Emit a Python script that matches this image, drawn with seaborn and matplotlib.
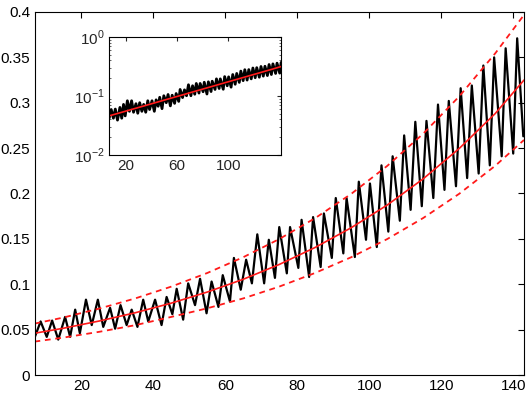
import matplotlib
matplotlib.use('Agg')
import matplotlib.pyplot as plt
import seaborn as sns

# black oscillating signal: alternating troughs / peaks
osc_x = [7.1, 8.7, 10.4, 11.9, 13.6, 15.5, 16.9, 18.3, 19.6, 21.3,
         22.9, 24.6, 26.1, 28.0, 29.4, 30.9, 32.6, 34.0, 35.6, 37.2,
         38.6, 40.5, 42.3, 43.7, 45.3, 46.5, 48.3, 49.7, 51.6, 53.0,
         54.8, 56.2, 58.1, 59.3, 61.3, 62.4, 64.3, 65.8, 67.4, 68.9,
         70.8, 72.1, 73.8, 75.0, 77.1, 78.0, 80.3, 81.2, 83.3, 84.4,
         86.5, 87.4, 89.6, 90.7, 92.8, 93.7, 96.0, 97.1, 99.1, 100.2,
         102.1, 103.4, 105.3, 106.5, 108.5, 109.7, 111.5, 112.8, 114.6, 115.9,
         117.8, 119.1, 120.9, 122.1, 124.1, 125.4, 127.2, 128.5, 130.4, 131.7,
         133.5, 134.7, 136.8, 137.9, 140.0, 141.1, 142.8]
osc_y = [0.042, 0.059, 0.042, 0.060, 0.039, 0.064, 0.042, 0.072, 0.046, 0.083,
         0.055, 0.083, 0.053, 0.074, 0.051, 0.077, 0.055, 0.072, 0.053, 0.083,
         0.059, 0.083, 0.055, 0.086, 0.067, 0.095, 0.061, 0.101, 0.077, 0.106,
         0.068, 0.103, 0.075, 0.110, 0.081, 0.129, 0.094, 0.127, 0.101, 0.155,
         0.101, 0.149, 0.107, 0.163, 0.112, 0.163, 0.118, 0.171, 0.108, 0.174,
         0.119, 0.178, 0.129, 0.195, 0.134, 0.195, 0.130, 0.213, 0.149, 0.211,
         0.141, 0.231, 0.158, 0.241, 0.170, 0.264, 0.182, 0.279, 0.186, 0.280,
         0.195, 0.298, 0.204, 0.302, 0.208, 0.316, 0.217, 0.319, 0.222, 0.341,
         0.231, 0.350, 0.241, 0.360, 0.244, 0.371, 0.263]

# red fitted curve and its envelope
fit_x = [7, 15, 25, 35, 45, 55, 65, 75, 85, 95, 105, 115, 125, 135, 143]
fit_mid = [0.0460, 0.0515, 0.0595, 0.0686, 0.0792, 0.0914, 0.1055, 0.1218,
           0.1406, 0.1623, 0.1873, 0.2162, 0.2496, 0.2881, 0.3250]
fit_up = [0.0566, 0.0633, 0.0732, 0.0844, 0.0974, 0.1124, 0.1298, 0.1498,
          0.1729, 0.1996, 0.2304, 0.2659, 0.3070, 0.3544, 0.3968]
fit_lo = [0.0368, 0.0412, 0.0476, 0.0549, 0.0640, 0.0735, 0.0844, 0.0974,
          0.1125, 0.1298, 0.1498, 0.1730, 0.1997, 0.2305, 0.2590]

sns.set_style('white')
plt.rcParams['font.family'] = ['Liberation Sans', 'DejaVu Sans']
plt.rcParams['mathtext.fontset'] = 'custom'
plt.rcParams['mathtext.rm'] = 'Liberation Sans'

fig = plt.figure(figsize=(5.30, 3.93), dpi=100)
ax = fig.add_axes([0.0651, 0.0458, 0.9236, 0.9237])

sns.lineplot(x=osc_x, y=osc_y, ax=ax, color='black', linewidth=1.6,
             sort=False, estimator=None)
sns.lineplot(x=fit_x, y=fit_mid, ax=ax, color='#ff1a1a', linewidth=1.2,
             sort=False, estimator=None)
for band in (fit_up, fit_lo):
    sns.lineplot(x=fit_x, y=band, ax=ax, color='#ff1a1a', linewidth=1.3,
                 linestyle=(0, (3.2, 2.6)), sort=False, estimator=None)

ax.set_xlim(7, 143)
ax.set_ylim(0, 0.4)
ax.set_xticks([20, 40, 60, 80, 100, 120, 140])
ax.set_yticks([0, 0.05, 0.1, 0.15, 0.2, 0.25, 0.3, 0.35, 0.4])
ax.set_yticklabels(['0', '0.05', '0.1', '0.15', '0.2', '0.25', '0.3', '0.35', '0.4'])
ax.tick_params(direction='in', length=4, width=0.8, labelsize=11, pad=3,
               top=True, right=True, colors='black')
for s in ax.spines.values():
    s.set_color('black')
    s.set_linewidth(0.8)

# inset on log scale
ax_in = fig.add_axes([0.2057, 0.6056, 0.3245, 0.3003])
sns.lineplot(x=osc_x, y=osc_y, ax=ax_in, color='black', linewidth=2.0,
             sort=False, estimator=None)
sns.lineplot(x=fit_x, y=fit_mid, ax=ax_in, color='#ff1a1a', linewidth=1.2,
             sort=False, estimator=None)
ax_in.set_yscale('log')
ax_in.set_xlim(7, 141)
ax_in.set_ylim(1e-2, 1e0)
ax_in.set_xticks([20, 60, 100])
ax_in.set_yticks([1e-2, 1e-1, 1e0])
ax_in.set_yticklabels([r'$10^{-2}$', r'$10^{-1}$', r'$10^{0}$'])
ax_in.tick_params(which='major', direction='in', length=3, width=0.8,
                  labelsize=11, pad=3, top=True, right=True)
ax_in.tick_params(which='minor', direction='in', length=1.5, width=0.5,
                  left=True, right=True)
for s in ax_in.spines.values():
    s.set_color('black')
    s.set_linewidth(0.8)

fig.savefig('out.png', dpi=100)
